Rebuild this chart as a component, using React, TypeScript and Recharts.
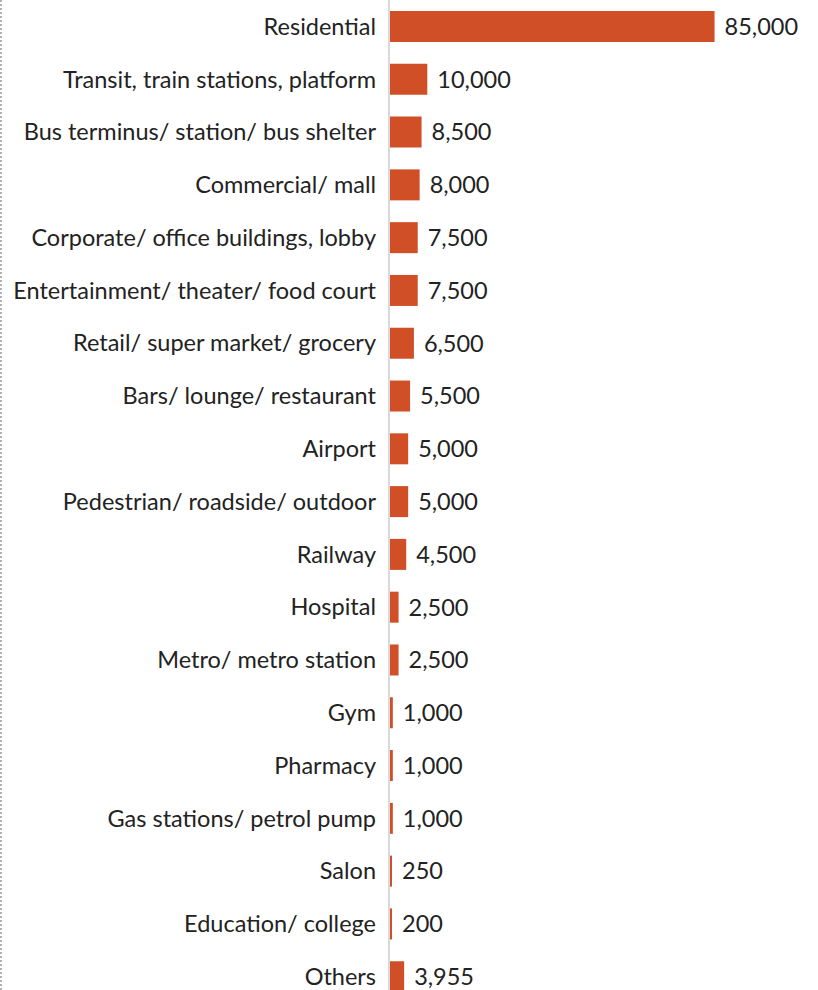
import { Bar, BarChart, LabelList, XAxis, YAxis } from "recharts";

const categories = [
  "Residential",
  "Transit, train stations, platform",
  "Bus terminus/ station/ bus shelter",
  "Commercial/ mall",
  "Corporate/ office buildings, lobby",
  "Entertainment/ theater/ food court",
  "Retail/ super market/ grocery",
  "Bars/ lounge/ restaurant",
  "Airport",
  "Pedestrian/ roadside/ outdoor",
  "Railway",
  "Hospital",
  "Metro/ metro station",
  "Gym",
  "Pharmacy",
  "Gas stations/ petrol pump",
  "Salon",
  "Education/ college",
  "Others",
];

const counts = [
  85000, 10000, 8500, 8000, 7500, 7500, 6500, 5500, 5000, 5000, 4500, 2500,
  2500, 1000, 1000, 1000, 250, 200, 3955,
];

const data = categories.map((name, i) => ({ name, value: counts[i] }));

const FONT = "Lato, sans-serif";

export default function App() {
  return (
    <div
      style={{
        position: "absolute",
        left: 0,
        top: 0,
        width: 818,
        height: 990,
        overflow: "hidden",
        background: "#fff",
      }}
    >
      <div
        style={{
          position: "absolute",
          left: 0,
          top: 0,
          height: 990,
          borderLeft: "2px dotted #b0b0b0",
        }}
      />
      <BarChart
        width={818}
        height={1003}
        data={data}
        layout="vertical"
        margin={{ top: 0, right: 46, bottom: 0, left: 0 }}
        barSize={31}
        barCategoryGap={0}
      >
        <XAxis type="number" domain={[0, 100000]} hide />
        <YAxis
          type="category"
          dataKey="name"
          width={389}
          tickLine={false}
          tickMargin={7}
          axisLine={{ stroke: "#d9d9d9", strokeWidth: 2 }}
          interval={0}
          tick={{ fill: "#222", fontSize: 23.5, fontFamily: FONT }}
        />
        <Bar
          dataKey="value"
          fill="#d04f26"
          minPointSize={3}
          isAnimationActive={false}
        >
          <LabelList
            dataKey="value"
            position="right"
            offset={10}
            formatter={(v: number) => v.toLocaleString("en-US")}
            style={{ fill: "#222", fontSize: 23.5, fontFamily: FONT }}
          />
        </Bar>
      </BarChart>
    </div>
  );
}
